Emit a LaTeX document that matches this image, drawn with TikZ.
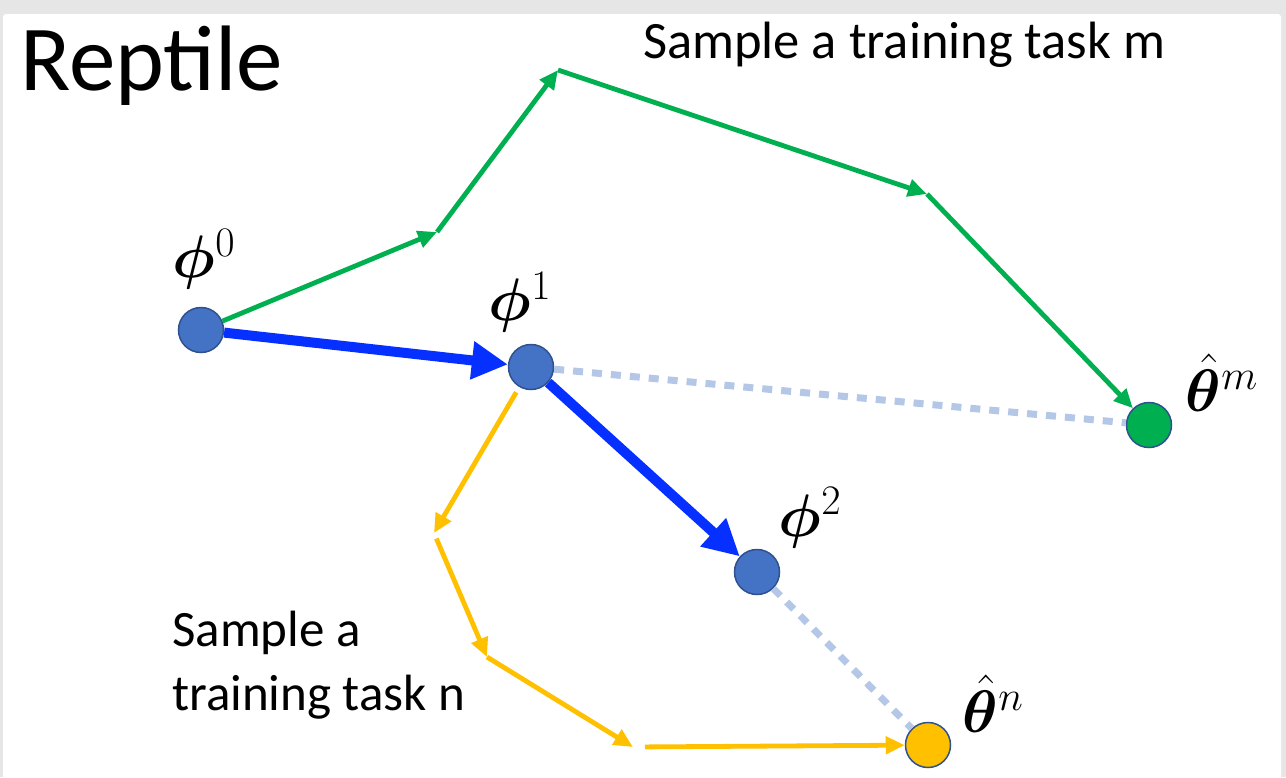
\RequirePackage{fix-cm}
\documentclass[tikz,border=0pt]{standalone}
\usepackage{bm}
\usepackage{fontspec}
\setmainfont{Carlito}
\usetikzlibrary{arrows.meta,positioning}
\definecolor{phiblue}   {RGB}{68,114,196}
\definecolor{phiedge}   {RGB}{47,82,143}
\definecolor{stepblue}  {RGB}{5,48,255}
\definecolor{taskgreen} {RGB}{0,176,80}
\definecolor{taskyellow}{RGB}{255,192,0}
\definecolor{dotblue}   {RGB}{180,199,231}
\definecolor{shadegray} {RGB}{230,230,230}
\tikzset{
  pnode/.style   ={circle, draw=phiedge, line width=1.5pt, fill=#1,
                   minimum size=45pt, inner sep=0pt},
  pnode/.default =phiblue,
  plabel/.style  ={font=\fontsize{60}{64}\selectfont, inner sep=0pt},
  tasktext/.style={font=\fontsize{#1}{64}\selectfont, align=left, inner sep=0pt},
  tasktext/.default=51,
  garr/.style    ={-{Triangle[length=19pt,width=17pt]}, line width=4.8pt, draw=taskgreen},
  yarr/.style    ={-{Triangle[length=19pt,width=17pt]}, line width=4.8pt, draw=taskyellow},
  barr/.style    ={-{Triangle[length=36pt,width=36pt]}, line width=10pt, draw=stepblue},
  darr/.style    ={line width=7pt, draw=dotblue, dash pattern=on 10pt off 9pt},
}
\begin{document}
\begin{tikzpicture}[x=1pt,y=-1pt]
  \useasboundingbox (0,0) rectangle (1286,777);
  % slide frame
  \fill[shadegray] (0,0) rectangle (1286,777);
  \fill[white, rounded corners=3pt] (3,14) rectangle (1281,790);
  % texts
  \node[font=\fontsize{93}{100}\selectfont, inner sep=0pt, anchor=base west] (title) at (20,90) {Reptile};
  \node[tasktext=52.5, anchor=base west] (taskm) at (643,58) {Sample a training task m};
  \node[tasktext, anchor=north west] (taskn) at (172,611) {Sample a\\training task n};
  % parameters
  \node[pnode] (p0) at (201,330) {};
  \node[pnode] (p1) at (531,367) {};
  \node[pnode] (p2) at (757,572) {};
  \node[pnode=taskgreen]  (tm) at (1149,425) {};
  \node[pnode=taskyellow] (tn) at (928,745) {};
  \node[plabel, above=17pt of p0, xshift=3pt] (l0) {$\bm{\phi}^0$};
  \node[plabel, above=11pt of p1, xshift=-11pt] (l1) {$\bm{\phi}^1$};
  \node[plabel, above right=7pt and 5pt of p2] (l2) {$\bm{\phi}^2$};
  \node[plabel, above right=-3pt and 20pt of tm] (lm) {$\hat{\bm{\theta}}^m$};
  \node[plabel, above right=-4pt and 18pt of tn] (ln) {$\hat{\bm{\theta}}^n$};
  % task m steps
  \coordinate (g1) at (437,232);
  \coordinate (g2) at (558,70);
  \coordinate (g3) at (927,194);
  \draw[garr] (p0) -- (g1);
  \draw[garr] (g1) -- (g2);
  \draw[garr] (g2) -- (g3);
  \draw[garr] (g3) -- (tm);
  % task n steps
  \coordinate (y1) at (434,533);
  \coordinate (y2) at (487,657);
  \coordinate (y3) at (633,747);
  \draw[yarr, shorten <=6pt] (p1) -- (y1);
  \draw[yarr, shorten <=6pt] (y1) -- (y2);
  \draw[yarr] (y2) -- (y3);
  \draw[yarr, shorten <=12pt] (y3) -- (tn);
  % meta updates
  \draw[darr] (p1) -- (tm);
  \draw[darr] (p2) -- (tn);
  \draw[barr] (p0) -- (p1);
  \draw[barr] (p1) -- (p2);
\end{tikzpicture}
\end{document}
